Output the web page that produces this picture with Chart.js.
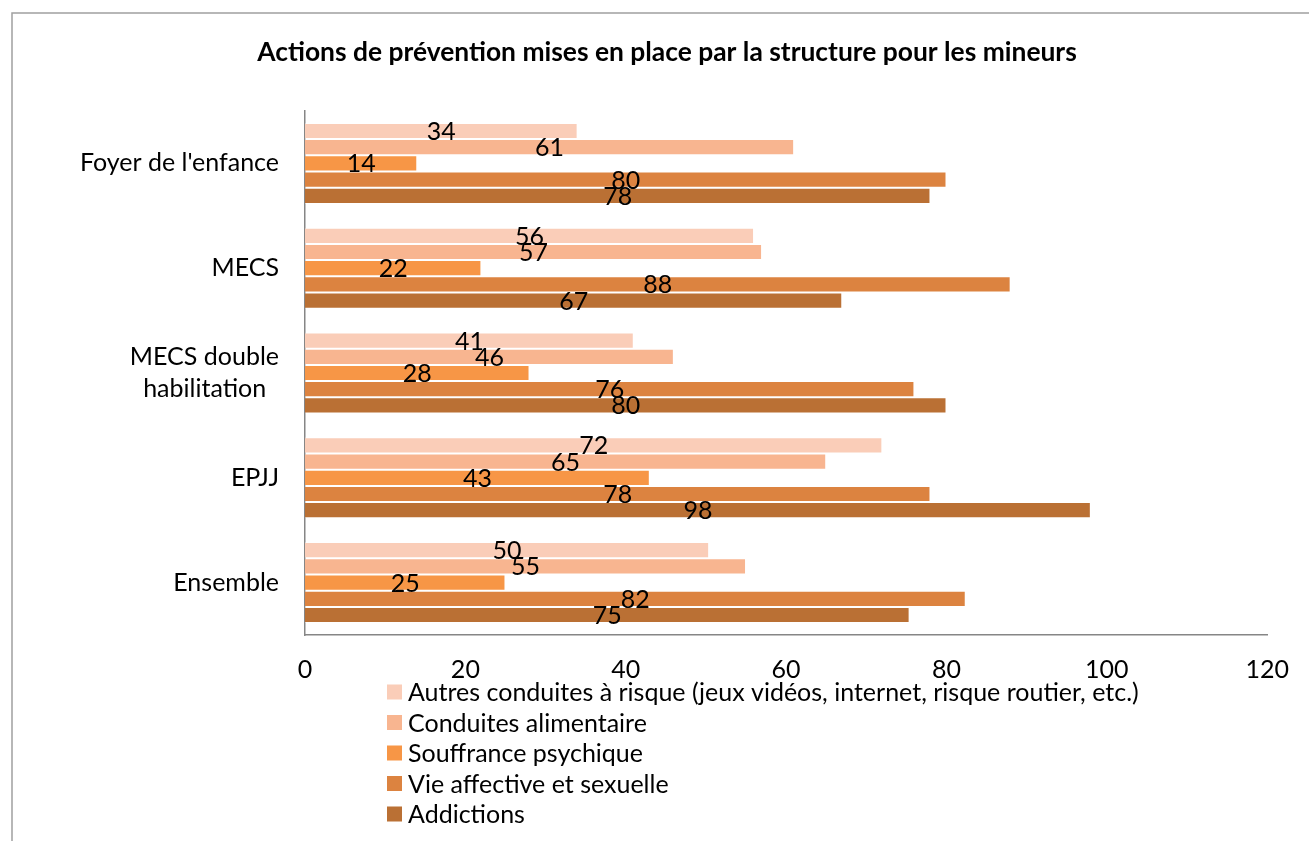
<!DOCTYPE html>
<html>
<head>
<meta charset="utf-8">
<script src="https://cdn.jsdelivr.net/npm/chart.js@4/dist/chart.umd.min.js"></script>
<style>
  body { margin: 0; background: #fff; }
</style>
</head>
<body>
<canvas id="myChart" width="1309" height="841"></canvas>
<script>
const categories = ["Foyer de l'enfance", 'MECS', ['MECS double', 'habilitation\u00a0\u00a0'], 'EPJJ', 'Ensemble'];
const seriesNames = [
  'Autres conduites à risque (jeux vidéos, internet, risque routier, etc.)',
  'Conduites alimentaire',
  'Souffrance psychique',
  'Vie affective et sexuelle',
  'Addictions'
];
const autres = [34, 56, 41, 72, 50.4];
const conduites = [61, 57, 46, 65, 55];
const souffrance = [14, 22, 28, 43, 25];
const vieAffective = [80, 88, 76, 78, 82.4];
const addictions = [78, 67, 80, 98, 75.4];
const xMin = 0, xMax = 120, xStep = 20;
const colors = ['#FACDB8', '#F8B590', '#F79646', '#DC8340', '#BA7034'];
const title = 'Actions de prévention mises en place par la structure pour les mineurs';

const FONT = 'Lato, "Liberation Sans", sans-serif';

const frameAndText = {
  id: 'frameAndText',
  beforeDraw(chart) {
    const ctx = chart.ctx;
    ctx.save();
    ctx.fillStyle = '#fff';
    ctx.fillRect(0, 0, chart.width, chart.height);
    ctx.strokeStyle = '#A0A0A0';
    ctx.lineWidth = 1.5;
    ctx.strokeRect(12, 13, chart.width + 20, chart.height + 20);
    ctx.restore();
  },
  afterDatasetsDraw(chart) {
    const ctx = chart.ctx;
    ctx.save();
    ctx.font = '25px ' + FONT;
    ctx.fillStyle = '#000';
    ctx.textAlign = 'center';
    ctx.textBaseline = 'middle';
    chart.data.datasets.forEach((ds, i) => {
      const meta = chart.getDatasetMeta(i);
      meta.data.forEach((bar, j) => {
        const cx = (bar.x + bar.base) / 2;
        ctx.fillText(String(Math.round(ds.data[j])), cx, bar.y + 1);
      });
    });
    ctx.restore();
  },
  afterDraw(chart) {
    const ctx = chart.ctx;
    ctx.save();
    ctx.fillStyle = '#000';
    ctx.font = 'bold 26.4px ' + FONT;
    ctx.textAlign = 'center';
    ctx.textBaseline = 'middle';
    ctx.fillText(title, 667, 52);

    ctx.font = '25px ' + FONT;
    ctx.textAlign = 'left';
    chart.data.datasets.forEach((ds, i) => {
      const y = 692 + i * 30.5;
      ctx.fillStyle = ds.backgroundColor;
      ctx.fillRect(387, y - 7.5, 15, 15);
      ctx.fillStyle = '#000';
      ctx.fillText(ds.label, 408, y + 1);
    });
    ctx.restore();
  }
};

const seriesData = [autres, conduites, souffrance, vieAffective, addictions];

const ctx = document.getElementById('myChart').getContext('2d');
// tiny letter spacing so "ti" is not drawn as a ligature
ctx.letterSpacing = '0.01px';
new Chart(ctx, {
  type: 'bar',
  data: {
    labels: categories,
    datasets: seriesNames.map((name, i) => ({
      label: name,
      data: seriesData[i],
      backgroundColor: colors[i],
      borderColor: 'rgba(255,255,255,0.35)',
      borderWidth: 1,
      categoryPercentage: 0.773,
      barPercentage: 1
    }))
  },
  options: {
    indexAxis: 'y',
    responsive: false,
    animation: false,
    layout: { padding: { top: 111, left: 0, right: 40, bottom: 146 } },
    plugins: {
      legend: { display: false },
      title: { display: false },
      tooltip: { enabled: false }
    },
    scales: {
      x: {
        min: xMin,
        max: xMax,
        ticks: { stepSize: xStep, color: '#000', padding: 20, font: { family: FONT, size: 25 } },
        grid: { display: false, drawTicks: false },
        border: { display: true, color: '#868686', width: 1.5 },
        afterFit(s) { s.height = 60; }
      },
      y: {
        ticks: { color: '#000', padding: 26, font: { family: FONT, size: 25, lineHeight: 1.28 } },
        grid: { display: false, drawTicks: false },
        border: { display: true, color: '#868686', width: 1.5 },
        afterFit(s) { s.width = 305; }
      }
    }
  },
  plugins: [frameAndText]
});
</script>
</body>
</html>
